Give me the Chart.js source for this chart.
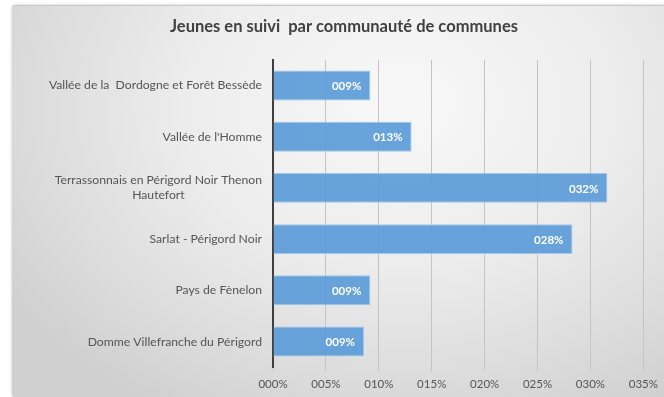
<!DOCTYPE html>
<html lang="fr">
<head>
<meta charset="utf-8">
<title>Jeunes en suivi par communauté de communes</title>
<script src="https://cdn.jsdelivr.net/npm/chart.js@4.4.1/dist/chart.umd.min.js"></script>
<style>
  html, body { margin: 0; padding: 0; background: #fff; overflow: hidden; }
  #wrap { position: relative; width: 664px; height: 397px; }
  /* panneau gris du graphique */
  #panel {
    position: absolute; left: 12px; top: 5px; width: 670px; height: 391px;
    border-radius: 3px;
    border-top: 1px solid #c9c9c9;
    background: radial-gradient(ellipse 70% 90% at 58% 25%, #f8f8f8 0%, #ededed 45%, #dedede 75%, #d0d0d0 100%);
    box-shadow: 0 0 3px rgba(0,0,0,0.25);
  }
  #chart { position: absolute; left: 0; top: 0; }
</style>
</head>
<body>
<div id="wrap">
  <div id="panel"></div>
  <canvas id="chart" width="664" height="397"></canvas>
</div>
<script>
// ── Données ──
const communautes = [
  ['Vallée de la  Dordogne et Forêt Bessède'],
  ["Vallée de l'Homme"],
  ['Terrassonnais en Périgord Noir Thenon', 'Hautefort'],
  ['Sarlat - Périgord Noir'],
  ['Pays de Fènelon'],
  ['Domme Villefranche du Périgord']
];
const parts = [0.092, 0.131, 0.316, 0.283, 0.092, 0.086];
const ticksX = [0, 0.05, 0.10, 0.15, 0.20, 0.25, 0.30, 0.35];

const POLICE = "Lato, 'Open Sans', sans-serif";
const GRIS = '#555555';

// format "009%"
const fmtPct = v => String(Math.round(v * 100)).padStart(3, '0') + '%';

// étiquettes des catégories (bloc aligné à droite, lignes centrées)
const labelsCategories = {
  id: 'labelsCategories',
  afterDraw(chart) {
    const { ctx, scales: { y }, chartArea } = chart;
    ctx.save();
    ctx.font = `12.2px ${POLICE}`;
    ctx.fillStyle = GRIS;
    ctx.textAlign = 'center';
    ctx.textBaseline = 'middle';
    const droite = chartArea.left - 11;
    const hLigne = 15;
    communautes.forEach((lignes, i) => {
      const yc = y.getPixelForValue(i);
      const maxW = Math.max(...lignes.map(l => ctx.measureText(l).width));
      const xc = droite - maxW / 2;
      const y0 = yc - (lignes.length - 1) * hLigne / 2;
      lignes.forEach((l, k) => ctx.fillText(l, xc, y0 + k * hLigne));
    });
    ctx.restore();
  }
};

// valeurs en blanc à l'intérieur des barres
const valeursBarres = {
  id: 'valeursBarres',
  afterDatasetsDraw(chart) {
    const { ctx } = chart;
    const meta = chart.getDatasetMeta(0);
    ctx.save();
    ctx.font = `bold 11.5px ${POLICE}`;
    ctx.fillStyle = '#ffffff';
    ctx.textAlign = 'right';
    ctx.textBaseline = 'middle';
    meta.data.forEach((bar, i) => {
      ctx.fillText(fmtPct(parts[i]), bar.x - 9, bar.y + 1);
    });
    ctx.restore();
  }
};

new Chart(document.getElementById('chart'), {
  type: 'bar',
  data: {
    labels: communautes.map(l => l.join(' ')),
    datasets: [{
      data: parts,
      backgroundColor: 'rgba(93,156,216,0.93)',
      borderColor: '#a3c7e8',
      borderWidth: 1,
      categoryPercentage: 0.585,
      barPercentage: 1
    }]
  },
  options: {
    indexAxis: 'y',
    responsive: false,
    animation: false,
    layout: { padding: { left: 41, right: 17, top: 0, bottom: 0 } },
    plugins: {
      legend: { display: false },
      tooltip: { enabled: false },
      title: {
        display: true,
        text: 'Jeunes en suivi  par communauté de communes',
        color: '#404040',
        font: { family: POLICE, size: 16.5, weight: 'bold' },
        padding: { top: 17, bottom: 23 }
      }
    },
    scales: {
      x: {
        min: 0,
        max: 0.35,
        afterBuildTicks: s => { s.ticks = ticksX.map(v => ({ value: v })); },
        grid: { color: '#c4c4c4', lineWidth: 1, tickLength: 4, drawTicks: true },
        border: { display: false },
        ticks: {
          color: GRIS,
          font: { family: POLICE, size: 11.5 },
          padding: 6,
          callback: v => fmtPct(v)
        }
      },
      y: {
        grid: { display: false },
        border: { display: true, color: '#3f3f3f', width: 2 },
        ticks: { display: false },
        afterFit: s => { s.width = 232; }
      }
    }
  },
  plugins: [labelsCategories, valeursBarres]
});
</script>
</body>
</html>
